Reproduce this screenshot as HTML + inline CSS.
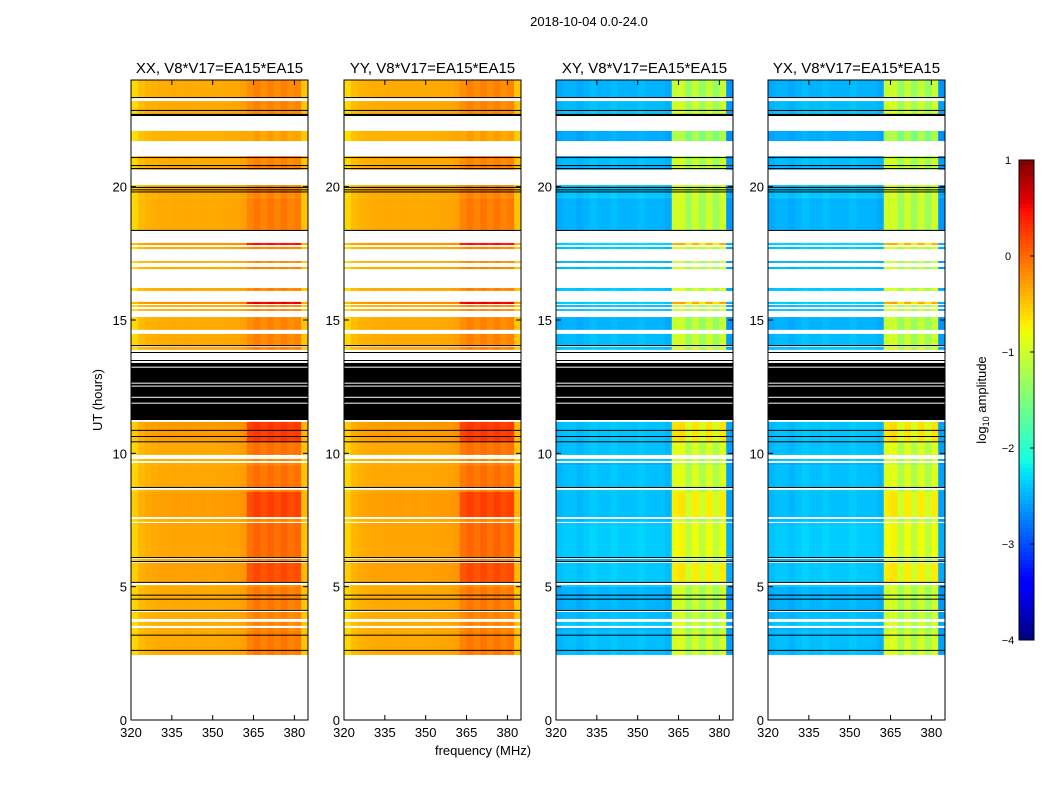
<!DOCTYPE html>
<html><head><meta charset="utf-8"><style>
body{margin:0;background:#fff;}
svg{display:block;font-family:"Liberation Sans",sans-serif;}
</style></head><body>
<svg id="fig" width="1050" height="800">
<text x="589" y="26" font-size="13" text-anchor="middle">2018-10-04 0.0-24.0</text>
<text x="483" y="755" font-size="13" text-anchor="middle">frequency (MHz)</text>
<text x="102" y="400" font-size="13" text-anchor="middle" transform="rotate(-90 102 400)">UT (hours)</text>
</svg>
<script>
// ---- data ----
const panelTitles = ["XX, V8*V17=EA15*EA15","YY, V8*V17=EA15*EA15","XY, V8*V17=EA15*EA15","YX, V8*V17=EA15*EA15"];
const xTicks = [320,335,350,365,380];
const yTicks = [0,5,10,15,20];
const cbTicks = [1,0,-1,-2,-3,-4];
const chanStart = 320, chanWidth = 2.5;
const parProfile = [-0.6,-0.45,-0.4,-0.38,-0.36,-0.36,-0.35,-0.36,-0.35,-0.36,-0.35,-0.36,-0.35,-0.35,-0.34,-0.33,-0.3,-0.2,-0.12,-0.2,-0.12,-0.2,-0.12,-0.2,-0.15,-0.5];
const crossProfile = [-2.5,-2.45,-2.45,-2.5,-2.45,-2.4,-2.45,-2.45,-2.4,-2.45,-2.45,-2.45,-2.4,-2.45,-2.45,-2.45,-2.5,-1.0,-0.95,-1.3,-1.0,-1.3,-1.0,-1.3,-1.0,-2.6];
const dataSegs = [
[24.0,23.36,0],[23.21,22.88,0],[22.84,22.73,0],[22.09,21.71,-0.15],[21.15,20.63,0],[20.06,19.58,0],
[19.58,18.38,0.05],[17.89,17.81,0.6],[17.74,17.66,0],[17.21,17.14,0],[16.99,16.91,0],[16.2,16.09,0],
[15.68,15.6,0.7],[15.56,15.49,0],[15.41,15.34,0],[15.11,14.63,0],[14.48,14.06,0],[13.99,13.88,0],
[11.18,10.4,0.4],[10.4,9.94,0.1],[9.79,9.71,0],[9.64,9.56,0],[9.56,8.74,0.1],[8.63,8.55,0],
[8.55,7.61,0.35],[7.54,7.43,0],[7.39,6.11,0.15],[6.04,5.96,0],[5.89,5.18,0.3],[5.06,4.99,0],
[4.99,4.13,0.05],[4.05,3.79,0],[3.68,3.53,0],[3.45,3.34,0],[3.34,2.44,0.05]];
const blackSegs = [[23.36,23.33],[22.88,22.84],[22.73,22.65],[21.11,21.08],[20.81,20.78],[20.70,20.66],
[19.99,19.96],[19.9,19.87],[19.82,19.79],[18.38,18.34],[14.06,14.02],[13.8,13.77],[13.5,13.47],[13.39,11.25],[10.88,10.85],[10.65,10.62],
[10.45,10.42],[8.74,8.71],[6.11,6.08],[5.96,5.93],[5.18,5.15],[4.7,4.67],[4.55,4.52],[4.13,4.1],[3.2,3.17],[2.63,2.6]];
const whiteLines = [[13.25,13.23],[12.65,12.63],[12.54,12.52],[12.12,12.1],[11.9,11.88]];

// ---- layout ----
const svg = document.getElementById('fig');
const NS = "http://www.w3.org/2000/svg";
const panelX = [131,344,556,768], PW = 177, PT = 80, PB = 720;
const fMin = 320, fMax = 385, hMin = 0, hMax = 24;
function xs(p,f){return panelX[p] + (f-fMin)/(fMax-fMin)*PW;}
function ys(h){return PB - (h-hMin)/(hMax-hMin)*(PB-PT);}
const vMin=-4, vMax=1;
function seg(t,pts){
  for(let i=0;i<pts.length-1;i++){const a=pts[i],b=pts[i+1];if(t<=b[0])return a[1]+(b[1]-a[1])*(t-a[0])/(b[0]-a[0]);}
  return pts[pts.length-1][1];
}
function jet(v){
  let t=Math.max(0,Math.min(1,(v-vMin)/(vMax-vMin)));
  const r=seg(t,[[0,0],[0.35,0],[0.66,1],[0.89,1],[1,0.5]]);
  const g=seg(t,[[0,0],[0.125,0],[0.375,1],[0.64,1],[0.91,0],[1,0]]);
  const b=seg(t,[[0,0.5],[0.11,1],[0.34,1],[0.65,0],[1,0]]);
  return `rgb(${Math.round(r*255)},${Math.round(g*255)},${Math.round(b*255)})`;
}
function el(tag,attrs,parent){const e=document.createElementNS(NS,tag);for(const k in attrs)e.setAttribute(k,attrs[k]);(parent||svg).appendChild(e);return e;}

for(let p=0;p<4;p++){
  const g=el('g',{});
  
  
  const prof = p<2 ? parProfile : crossProfile;
  dataSegs.forEach((s,si)=>{
    prof.forEach((v,ci)=>{
      const f0=chanStart+ci*chanWidth, f1=Math.min(f0+chanWidth,fMax);
      const val = v + s[2]*(ci>=17&&ci<=24?1:0.2) + (p>=2?0.05*((si%3)-1):0);
      const r=el('rect',{x:xs(p,f0),y:ys(s[0]),width:xs(p,f1)-xs(p,f0)+0.3,height:ys(s[1])-ys(s[0]),fill:jet(val)},g);
      
      
    });
  });
  blackSegs.forEach(s=>{
    const r=el('rect',{x:panelX[p],y:ys(s[0]),width:PW,height:Math.max(1,ys(s[1])-ys(s[0])),fill:'#000'},g);
    
    
  });
  whiteLines.forEach(s=>{
    el('rect',{x:panelX[p],y:ys(s[0]),width:PW,height:Math.max(1,ys(s[1])-ys(s[0])),fill:'#fff'},g);
  });
  const fr=el('rect',{x:panelX[p],y:PT,width:PW,height:PB-PT,fill:'none',stroke:'#000','stroke-width':1},g);
  
  
  const t=el('text',{x:panelX[p]+PW/2,y:73,'font-size':15,'text-anchor':'middle'},g);
  t.textContent=panelTitles[p];
  
  
  xTicks.forEach(f=>{
    const x=xs(p,f);
    el('line',{x1:x,x2:x,y1:PB,y2:PB-5,stroke:'#000'},g);
    el('line',{x1:x,x2:x,y1:PT,y2:PT+5,stroke:'#000'},g);
    const l=el('text',{x:x,y:PB+17,'font-size':13,'text-anchor':'middle'},g);
    l.textContent=f;
    
    
  });
  yTicks.forEach(h=>{
    const y=ys(h);
    el('line',{x1:panelX[p],x2:panelX[p]+5,y1:y,y2:y,stroke:'#000'},g);
    el('line',{x1:panelX[p]+PW,x2:panelX[p]+PW-5,y1:y,y2:y,stroke:'#000'},g);
    const l=el('text',{x:panelX[p]-4,y:y+5,'font-size':13,'text-anchor':'end'},g);
    l.textContent=h;
    
    
  });
}
// colorbar
const cb=el('g',{});


const cbX=1019,cbW=15,cbT=160,cbB=640;
for(let i=0;i<120;i++){
  const v=vMax-(i+0.5)/120*(vMax-vMin);
  el('rect',{x:cbX,y:cbT+i*(cbB-cbT)/120,width:cbW,height:(cbB-cbT)/120+0.5,fill:jet(v)},cb);
}
el('rect',{x:cbX,y:cbT,width:cbW,height:cbB-cbT,fill:'none',stroke:'#000'},cb);
cbTicks.forEach(v=>{
  const y=cbT+(vMax-v)/(vMax-vMin)*(cbB-cbT);
  el('line',{x1:cbX+cbW-4,x2:cbX+cbW,y1:y,y2:y,stroke:'#000'},cb);
  const l=el('text',{x:1008,y:y+4,'font-size':11,'text-anchor':'middle'},cb);
  l.textContent=v<0?'\u2212'+(-v):v;
  
  
});
const ct=el('text',{x:986,y:400,'font-size':13,'text-anchor':'middle',transform:'rotate(-90 986 400)'},cb);
ct.innerHTML='log<tspan font-size="9" dy="3">10</tspan><tspan dy="-3"> amplitude</tspan>';


</script>
</body></html>
